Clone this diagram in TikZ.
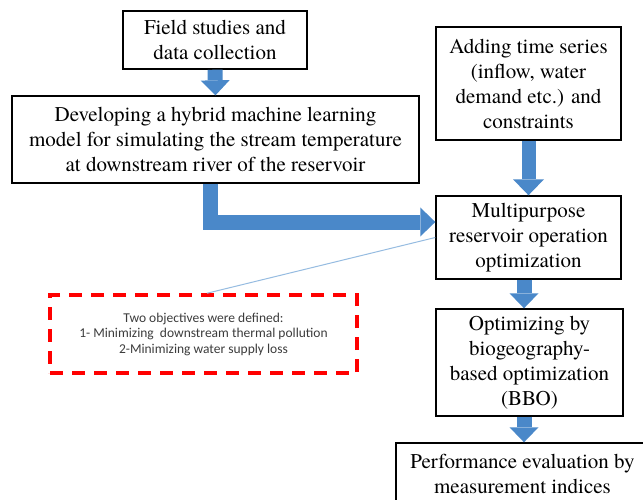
\documentclass[tikz,border=0pt]{standalone}
\usepackage{fontspec}
\IfFontExistsTF{texgyretermes-regular.otf}{%
  \newfontfamily\timesx{texgyretermes-regular.otf}
  \newcommand\boxfont{\timesx\fontsize{21}{25}\selectfont}%
}{%
  \newfontfamily\timesx{Latin Modern Roman}
  \newcommand\boxfont{\timesx\fontsize{18.5}{25}\selectfont}%
}
\newfontfamily\calib{Carlito}
\usetikzlibrary{arrows.meta,calc}
\definecolor{arrowblue}{RGB}{74,136,201}
\definecolor{thinblue}{RGB}{150,188,225}
\definecolor{notegray}{RGB}{60,60,60}
\begin{document}
\begin{tikzpicture}[x=1pt,y=-1pt,
  box/.style={draw=black, line width=1.4pt, align=center, inner sep=0pt,
    font=\boxfont},
  blockarrow/.style={draw=arrowblue, line width=15pt,
    -{Triangle[width=29pt,length=15pt,line width=0pt]}},
  notebox/.style={draw=red, line width=3.5pt, dash pattern=on 13pt off 9pt,
    align=center, inner sep=0pt, text=notegray,
    font=\calib\fontsize{13.5}{15.5}\selectfont},
  thinline/.style={draw=thinblue, line width=1pt}
]
\useasboundingbox (0,0) rectangle (643,500);
\clip (0,0) rectangle (643,500);
\fill[white] (0,0) rectangle (643,500);

\node[box, minimum width=184pt, minimum height=58pt] (field) at (215,40)
  {Field studies and\\data collection};
\node[box, minimum width=407pt, minimum height=87pt] (dev) at (215.5,139.5)
  {Developing a hybrid machine learning\\model for simulating the stream temperature\\at downstream river of the reservoir};
\node[box, minimum width=185pt, minimum height=113pt] (add) at (528.5,83.5)
  {Adding time series\\(inflow, water\\demand etc.) and\\constraints};
\node[box, minimum width=185pt, minimum height=83pt] (multi) at (528.5,237.5)
  {Multipurpose\\reservoir operation\\optimization};
\node[box, minimum width=187pt, minimum height=107pt] (opt) at (529.5,362.5)
  {Optimizing by\\biogeography-\\based optimization\\(BBO)};
\node[box, minimum width=253pt, minimum height=62pt] (perf) at (522.5,474)
  {Performance evaluation by\\measurement indices};
\node[notebox, minimum width=307pt, minimum height=78pt] (note) at (203.5,334)
  {Two objectives were defined:\\1- Minimizing\ \ downstream thermal pollution\\2-Minimizing water supply loss};

\draw[blockarrow] (field.south) -- (dev.north);
\draw[blockarrow, line width=14pt, -{Triangle[width=31pt,length=16pt,line width=0pt]}] (add.south) -- (multi.north);
\draw[blockarrow] ([xshift=-4.5pt]multi.south) -- ([xshift=-4.5pt]multi.south |- opt.north);
\draw[blockarrow] ([xshift=-5.5pt]opt.south) -- ([xshift=-5.5pt]opt.south |- perf.north);
\draw[blockarrow] ([xshift=-5pt]dev.south) |- ([yshift=15.5pt]multi.west);
\draw[thinline] ([xshift=3.5pt]note.north) -- (multi.west);
\end{tikzpicture}
\end{document}
